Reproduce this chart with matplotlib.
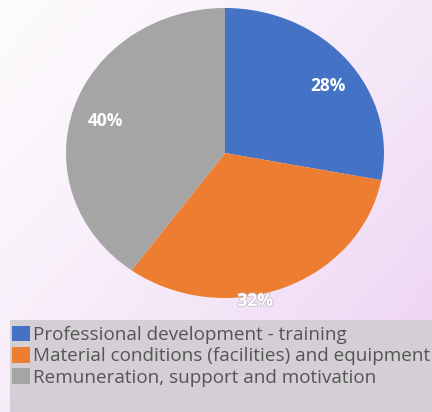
import matplotlib.pyplot as plt
import matplotlib.patheffects as pe
from matplotlib.patches import Rectangle
import numpy as np

# Data
categories = ["Professional development - training",
              "Material conditions (facilities) and equipment",
              "Remuneration, support and motivation"]
shares = [28, 32, 40]
colors = ["#4472c4", "#ed7d31", "#a5a5a5"]

plt.rcParams['font.family'] = ['Open Sans', 'DejaVu Sans']

W, H = 432, 412
fig = plt.figure(figsize=(W / 100, H / 100), dpi=100)

# gradient background (white top-left -> lavender bottom-right)
bg = fig.add_axes([0, 0, 1, 1])
yy, xx = np.mgrid[0:1:200j, 0:1:200j]
t = np.clip(0.6 * xx + 0.5 * yy, 0, 1) ** 1.3
c0 = np.array([253, 251, 253]) / 255
c1 = np.array([238, 214, 243]) / 255
img = c0 + (c1 - c0) * t[..., None]
bg.imshow(img, extent=[0, 1, 0, 1], aspect='auto', origin='upper')
bg.set_axis_off()

# pie
ax = fig.add_axes([66 / W, (H - 298) / H, 318 / W, 290 / H])
wedges, texts, autotexts = ax.pie(shares, colors=colors, startangle=90, counterclock=False,
                                  autopct='%1.0f%%', pctdistance=0.8,
                                  wedgeprops=dict(linewidth=0),
                                  textprops=dict(color='white', fontsize=12.5, fontweight='bold'))
ax.set_aspect('auto')
ax.set_xlim(-1, 1)
ax.set_ylim(-1, 1)

# label placement as in the original
autotexts[0].set_position((0.65, 0.46))
autotexts[2].set_position((-0.75, 0.22))
autotexts[1].set_position((0.19, -1.02))
autotexts[1].set_path_effects([pe.withStroke(linewidth=1.2, foreground='#c9c0cc')])

# legend box
fig.patches.append(Rectangle((10 / W, 0), 1, (H - 320) / H, transform=fig.transFigure,
                             facecolor='#d3cfd4', edgecolor='none', zorder=1))
leg = fig.legend(wedges, categories, loc='upper left', bbox_to_anchor=(4 / W, (H - 318) / H),
                 frameon=False, fontsize=13.6, labelcolor='#555555',
                 handlelength=0.95, handleheight=0.9, handletextpad=0.2, labelspacing=0.16,
                 borderaxespad=0)

fig.savefig("out.png", dpi=100)
